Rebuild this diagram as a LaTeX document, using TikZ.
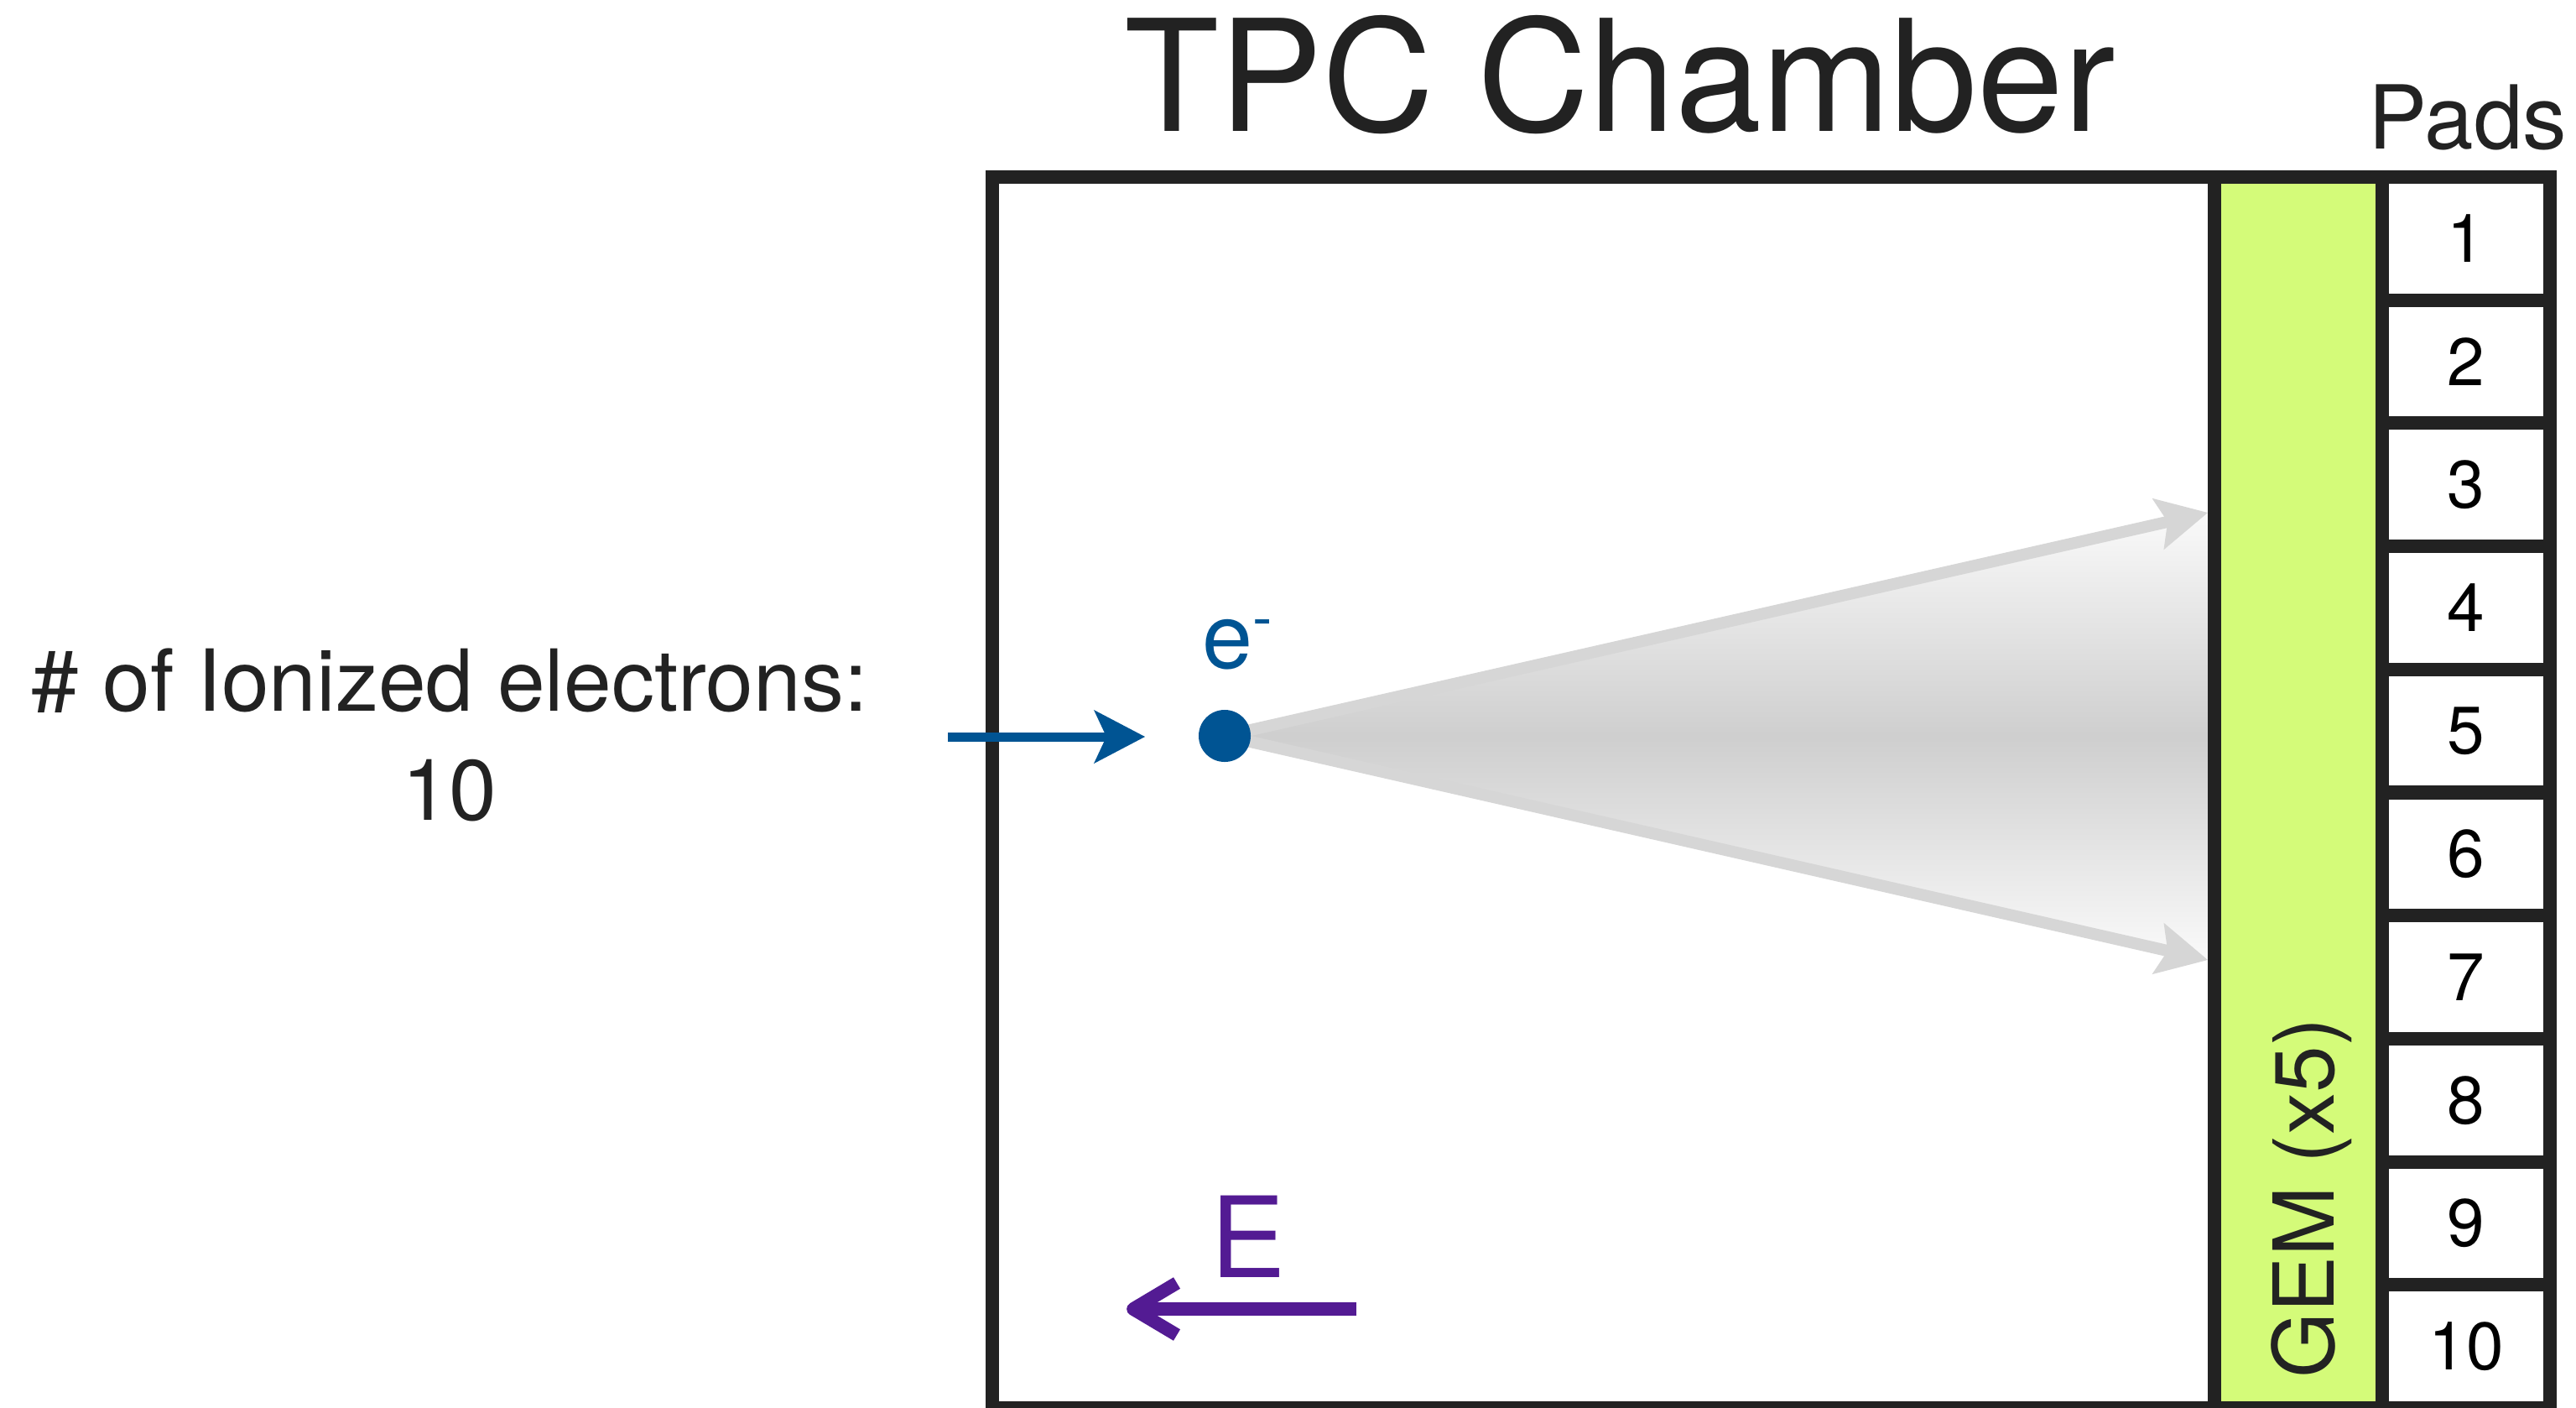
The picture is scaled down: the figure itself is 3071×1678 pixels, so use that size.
\documentclass[tikz,border=0pt]{standalone}
\usepackage{fontspec}
\setmainfont{TeX Gyre Heros}
\usetikzlibrary{arrows.meta}
\definecolor{ink}{HTML}{222222}
\definecolor{ebl}{RGB}{0,84,147}
\definecolor{grape}{RGB}{83,27,147}
\definecolor{gemg}{RGB}{212,251,121}
\definecolor{cone}{RGB}{214,214,214}
\newcommand\fsz[2]{\fontsize{#1}{#2}\selectfont}
\begin{document}
\begin{tikzpicture}[x=0.01cm,y=-0.01cm,
  frame/.style={draw=ink,line width=0.16cm,inner sep=0pt},
  padbox/.style={frame,minimum width=2cm,minimum height=1.467cm,font=\fsz{22.8pt}{24pt},text=black},
  drift/.style={draw=cone,line width=0.14cm,-{Stealth[length=0.61cm,width=0.63cm,inset=0.12cm,line width=0pt]}},
  efield/.style={draw=grape,line width=0.157cm},
  lbl/.style={inner sep=0pt,text=ink}]
\useasboundingbox (0,0) rectangle (3071,1678);
% chamber
\node[frame,minimum width=14.57cm,minimum height=14.67cm] (chamber) at (1911.5,944.5) {};
% drift cone
\coordinate (ec) at (1460,877);
\coordinate (uptip) at (2632,611);
\coordinate (lotip) at (2632,1144);
\shade[top color=white!98!black,bottom color=white!98!black,middle color=white!81!black]
  (ec) -- (2640,611) -- (2640,1144) -- cycle;
\draw[drift] (ec) -- (uptip);
\draw[drift] (ec) -- (lotip);
% GEM and pads
\node[frame,fill=gemg,minimum width=2cm,minimum height=14.67cm] (gem) at (2740,944.5) {};
\foreach \k in {1,...,10} {
  \node[padbox] (pad\k) at (2940,{211+146.7*(\k-0.5)}) {\k};
}
% labels
\node[lbl,anchor=base,font=\fsz{52.6pt}{60pt}] (title) at (1931,156) {TPC Chamber};
\node[lbl,anchor=base,font=\fsz{29.9pt}{32pt}] (padslbl) at (2942,177) {Pads};
\node[lbl,rotate=90,anchor=base west,font=\fsz{28.5pt}{30pt}] (gemlbl) at (2782,1643) {GEM (x5)};
\node[lbl,anchor=north,align=center,font=\fsz{29pt}{37pt}] (count) at (536,772) {\# of Ionized electrons:\\10};
% electron
\node[circle,fill=ebl,minimum size=0.62cm,inner sep=0pt] (dot) at (ec) {};
\node[inner sep=0pt,text=ebl,anchor=base west,font=\fsz{30.7pt}{32pt}] (elbl) at (1433,796) {e\raisebox{10.2pt}{\fsz{20pt}{20pt}-}};
\coordinate (bstart) at (1130,878);
\coordinate (btip) at (1365,878);
\draw[ebl,line width=0.11cm,-{Stealth[length=0.61cm,width=0.64cm,inset=0.15cm,line width=0pt]}] (bstart) -- (btip);
% electric field
\node[inner sep=0pt,text=grape,anchor=base,font=\fsz{38pt}{40pt}] (Elbl) at (1488,1522) {E};
\coordinate (Er) at (1617,1560);
\coordinate (El) at (1351,1560);
\draw[efield] (Er) -- (El);
\draw[efield,line join=round] (El) ++(52,-31) -- (El) -- ++(52,31);
\end{tikzpicture}
\end{document}
